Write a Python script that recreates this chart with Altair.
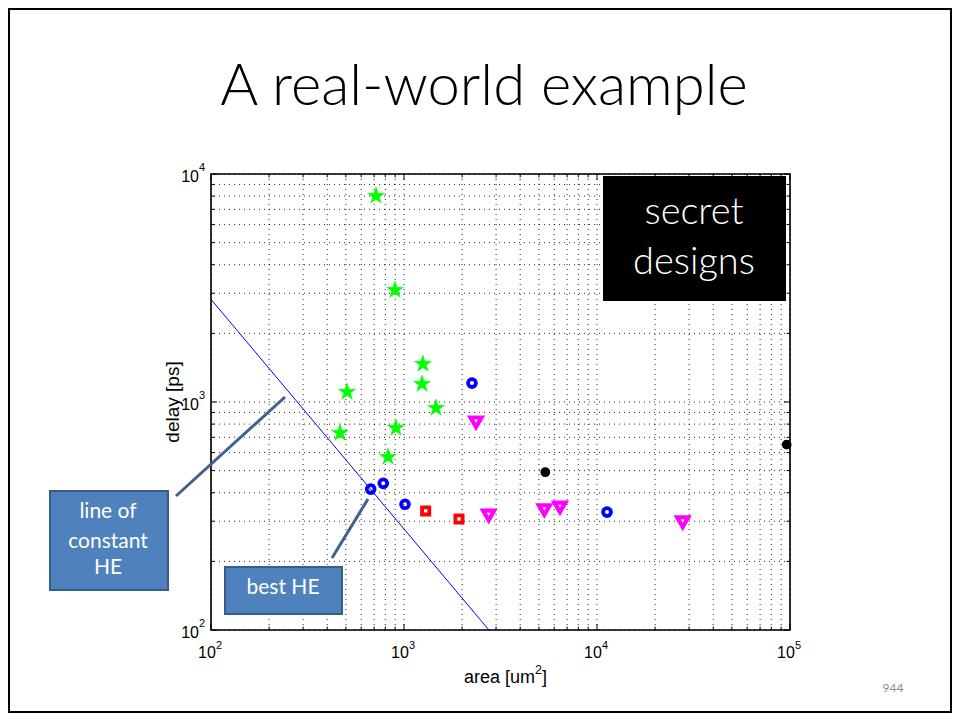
import altair as alt
import pandas as pd

# ---- data ----
star_area = [716, 898, 1254, 1240, 1465, 507, 466, 909, 826]
star_delay = [8015, 3100, 1468, 1199, 941, 1106, 731, 769, 574]

circle_area = [672, 781, 1012, 2250, 11270]
circle_delay = [415, 440, 356, 1211, 329]

square_area = [1295, 1927]
square_delay = [333, 307]

tri_area = [2361, 2746, 5333, 6427, 27800]
tri_delay = [815, 318, 336, 345, 297]

dot_area = [5396, 96100]
dot_delay = [492, 650]

he_area = [100, 2754]
he_delay = [2820, 100]

x_major = [100, 1000, 10000, 100000]
x_exp = ["2", "3", "4", "5"]
y_major = [100, 1000, 10000]
y_exp = ["2", "3", "4"]
x_minor = [m * d for d in [100, 1000, 10000] for m in range(2, 10)]
y_minor = [m * d for d in [100, 1000] for m in range(2, 10)]

W, H = 579, 456

xs = alt.Scale(type="log", domain=[100, 100000], nice=False)
ys = alt.Scale(type="log", domain=[100, 10000], nice=False)

one = pd.DataFrame({"k": [0]})

# grid layer
xgrid = pd.DataFrame({"v": x_major + x_minor})
ygrid = pd.DataFrame({"v": y_major + y_minor})
grid_kw = dict(color="black", strokeDash=[1, 4], strokeWidth=1, opacity=0.85)
gx = alt.Chart(xgrid).mark_rule(**grid_kw).encode(
    x=alt.X("v:Q", scale=xs, axis=None))
gy = alt.Chart(ygrid).mark_rule(**grid_kw).encode(
    y=alt.Y("v:Q", scale=ys, axis=None))

# inward ticks
def xticks(vals, L):
    d = pd.DataFrame({"v": vals})
    b = alt.Chart(d).mark_rule(color="black", strokeWidth=1).encode(
        x=alt.X("v:Q", scale=xs, axis=None), y=alt.value(H), y2=alt.value(H - L))
    t = alt.Chart(d).mark_rule(color="black", strokeWidth=1).encode(
        x=alt.X("v:Q", scale=xs, axis=None), y=alt.value(0), y2=alt.value(L))
    return [b, t]

def yticks(vals, L):
    d = pd.DataFrame({"v": vals})
    l = alt.Chart(d).mark_rule(color="black", strokeWidth=1).encode(
        y=alt.Y("v:Q", scale=ys, axis=None), x=alt.value(0), x2=alt.value(L))
    r = alt.Chart(d).mark_rule(color="black", strokeWidth=1).encode(
        y=alt.Y("v:Q", scale=ys, axis=None), x=alt.value(W), x2=alt.value(W - L))
    return [l, r]

ticks = xticks(x_major, 6) + xticks(x_minor, 3.5) + yticks(y_major, 6) + yticks(y_minor, 3.5)

# frame
frame = alt.Chart(one).mark_rect(fill=None, stroke="black", strokeWidth=1.6).encode(
    x=alt.value(0), x2=alt.value(W), y=alt.value(0), y2=alt.value(H))

# HE line
he = alt.Chart(pd.DataFrame({"a": he_area, "d": he_delay})).mark_line(
    color="#0000FF", strokeWidth=1).encode(
    x=alt.X("a:Q", scale=xs, axis=None), y=alt.Y("d:Q", scale=ys, axis=None))

STAR = ("M0,-1L0.2245,-0.309L0.951,-0.309L0.3633,0.118L0.5878,0.809L0,0.382"
        "L-0.5878,0.809L-0.3633,0.118L-0.951,-0.309L-0.2245,-0.309Z")

def pts(a, d, **kw):
    return alt.Chart(pd.DataFrame({"a": a, "d": d})).mark_point(**kw).encode(
        x=alt.X("a:Q", scale=xs, axis=None), y=alt.Y("d:Q", scale=ys, axis=None))

stars = pts(star_area, star_delay, shape=STAR, size=320, filled=True,
            fill="#00FF00", stroke="#00FF00", strokeWidth=0.5, opacity=1)
circles = pts(circle_area, circle_delay, shape="circle", size=62, filled=False,
              stroke="#0000FF", strokeWidth=3.8, opacity=1)
squares = pts(square_area, square_delay, shape="square", size=52, filled=False,
              stroke="#FF0000", strokeWidth=3.8, opacity=1)
tris = pts(tri_area, tri_delay, shape="triangle-down", size=120, filled=False,
           stroke="#FF00FF", strokeWidth=4.2, opacity=1)
dots = pts(dot_area, dot_delay, shape="circle", size=60, filled=True,
           fill="black", stroke="black", opacity=1)

# tick labels
AX_FONT = "Liberation Sans"
xl = pd.DataFrame({"v": x_major, "e": x_exp})
yl = pd.DataFrame({"v": y_major, "e": y_exp})
xlab10 = alt.Chart(xl).mark_text(font=AX_FONT, fontSize=16, align="center",
                                 baseline="alphabetic", dx=-4).encode(
    x=alt.X("v:Q", scale=xs, axis=None), y=alt.value(H + 28), text=alt.value("10"))
xlabE = alt.Chart(xl).mark_text(font=AX_FONT, fontSize=11, align="left",
                                baseline="alphabetic", dx=5).encode(
    x=alt.X("v:Q", scale=xs, axis=None), y=alt.value(H + 19), text="e:N")
ylab10 = alt.Chart(yl).mark_text(font=AX_FONT, fontSize=16, align="right",
                                 baseline="middle", dx=-12, dy=3).encode(
    y=alt.Y("v:Q", scale=ys, axis=None), x=alt.value(0), text=alt.value("10"))
ylabE = alt.Chart(yl).mark_text(font=AX_FONT, fontSize=11, align="left",
                                baseline="middle", dx=-12, dy=-6).encode(
    y=alt.Y("v:Q", scale=ys, axis=None), x=alt.value(0), text="e:N")

def txt(s, x, y, **kw):
    return alt.Chart(one).mark_text(**kw).encode(
        x=alt.value(x), y=alt.value(y), text=alt.value(s))

xt1 = txt("area [um", 324, 509, font=AX_FONT, fontSize=18, align="right", baseline="alphabetic")
xt2 = txt("2", 324, 500, font=AX_FONT, fontSize=12.5, align="left", baseline="alphabetic")
xt3 = txt("]", 331, 509, font=AX_FONT, fontSize=18, align="left", baseline="alphabetic")
ytitle = txt("delay [ps]", -38, 228, font=AX_FONT, fontSize=19, align="center",
             baseline="middle", angle=270)

TFONT = "Lato"
title = txt("A real-world example", 273, -86, font=TFONT, fontSize=58, fontWeight=300,
            align="center", baseline="middle", color="black")

# secret box
sbox = alt.Chart(one).mark_rect(color="black").encode(
    x=alt.value(392), x2=alt.value(575), y=alt.value(2), y2=alt.value(127))
s1 = txt("secret", 483, 39, font=TFONT, fontSize=38, fontWeight=300, color="white",
         align="center", baseline="middle")
s2 = txt("designs", 483, 89, font=TFONT, fontSize=38, fontWeight=300, color="white",
         align="center", baseline="middle")

# callouts
BFILL, BSTROKE, LCOL = "#4F81BD", "#385D8A", "#41618C"
l1 = alt.Chart(one).mark_rule(color=LCOL, strokeWidth=3).encode(
    x=alt.value(-35), x2=alt.value(74), y=alt.value(322), y2=alt.value(223))
l2 = alt.Chart(one).mark_rule(color=LCOL, strokeWidth=3).encode(
    x=alt.value(121), x2=alt.value(157), y=alt.value(384), y2=alt.value(325))
b1 = alt.Chart(one).mark_rect(fill=BFILL, stroke=BSTROKE, strokeWidth=2).encode(
    x=alt.value(-161), x2=alt.value(-43), y=alt.value(317), y2=alt.value(416))
b1t = [txt(s, -103, y, font="Lato", fontSize=21, color="white", align="center", baseline="middle")
       for s, y in [("line of", 338), ("constant", 368), ("HE", 394)]]
b2 = alt.Chart(one).mark_rect(fill=BFILL, stroke=BSTROKE, strokeWidth=2).encode(
    x=alt.value(14), x2=alt.value(131), y=alt.value(393), y2=alt.value(440))
b2t = txt("best HE", 72, 414, font="Lato", fontSize=21, color="white", align="center", baseline="middle")

pagenum = txt("944", 682, 514, font="Lato", fontSize=12, color="#8c8c8c", align="center", baseline="middle")

border = alt.Chart(one).mark_rect(fill=None, stroke="black", strokeWidth=2).encode(
    x=alt.value(-202), x2=alt.value(740), y=alt.value(-165), y2=alt.value(538))

chart = alt.layer(
    gx, gy, *ticks, he, stars, circles, squares, tris, dots, frame,
    sbox, s1, s2, xlab10, xlabE, ylab10, ylabE, xt1, xt2, xt3, ytitle, title,
    l1, l2, b1, *b1t, b2, b2t, pagenum, border,
).properties(
    width=W, height=H,
    padding={"left": 203, "top": 166, "right": 162, "bottom": 83},
    autosize=alt.AutoSizeParams(type="none"),
).configure_view(stroke=None).configure(background="white")

chart.save("out.html", embed_options={"renderer": "svg", "actions": False})
